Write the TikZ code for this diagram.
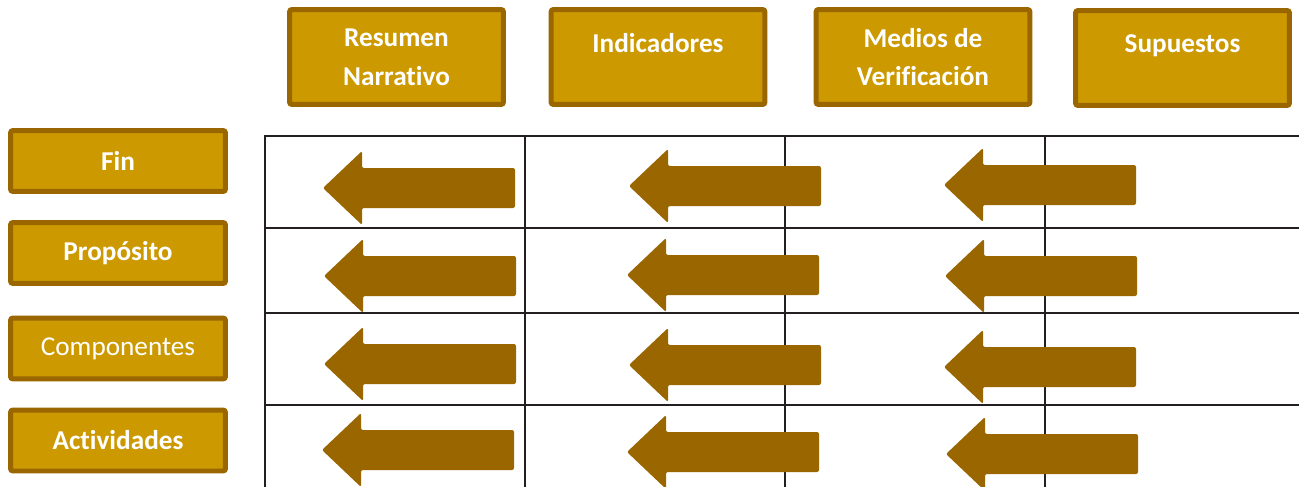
\documentclass[tikz,border=0pt]{standalone}
\usepackage{fontspec}
\setmainfont{Carlito}[Ligatures=CommonOff]
\usepackage{tikz}
\usetikzlibrary{calc}
\definecolor{boxGold}{HTML}{CC9900}
\definecolor{boxBrown}{HTML}{996600}
\definecolor{gridBlack}{HTML}{231F20}
\tikzset{
 goldBox/.style = {draw=boxBrown, fill=boxGold, line width=0.1cm, rounded corners=0.05cm,
  text=white, align=center, font=\bfseries\fontsize{15.5}{22}\selectfont},
 headBox/.style = {goldBox, minimum width=4.28cm, minimum height=1.9cm},
 rowBox/.style = {goldBox, minimum width=4.3cm, minimum height=1.22cm},
 gridLine/.style = {draw=gridBlack, line width=0.04cm}
}
\pgfkeys{
 /leftArrow/.is family, /leftArrow,
 color/.estore in = \laColor,
 name/.estore in = \laName,
 default/.style = {color=boxBrown, name=defaultarrow}
}
\newcommand{\leftArrow}[2][]{
    \pgfkeys{/leftArrow, default, #1}%
    \coordinate (\laName_tip) at #2;
    \fill[color=\laColor, rounded corners=0.04cm] (\laName_tip) -- ++(39,-37) -- ++(0,17)
        -- ++(153,0) -- ++(0,40) -- ++(-153,0) -- ++(0,17) -- cycle;
}
\begin{document}
\begin{tikzpicture}[x=0.02cm, y=-0.02cm]
    \useasboundingbox (0,0) rectangle (1299,487);
    % column headers
    \node[headBox] (hdResumen) at (396.5,57) {Resumen\\Narrativo};
    \node[headBox] (hdIndicadores) at (658,57) {Indicadores\\[-6pt]\mbox{}};
    \node[headBox] (hdMedios) at (923,57) {Medios de\\Verificación};
    \node[headBox] (hdSupuestos) at (1182.5,58) {Supuestos\\[-6pt]\mbox{}};
    % row headers
    \node[rowBox] (rowFin) at (118,161) {Fin};
    \node[rowBox] (rowProposito) at (118,253) {Propósito};
    \node[rowBox, font=\fontsize{15.5}{22}\selectfont] (rowComponentes) at (118,348.5) {Componentes};
    \node[rowBox] (rowActividades) at (118,440.5) {Actividades};
    % grid
    \foreach \gy in {136,228,313,405}
        \draw[gridLine] (265,\gy) -- (1299,\gy);
    \foreach \gx in {265,525,785,1045}
        \draw[gridLine] (\gx,135) -- (\gx,487);
    % arrows
    \leftArrow[name=finA]{(323,188)}
    \leftArrow[name=finB]{(629,186)}
    \leftArrow[name=finC]{(944,185)}
    \leftArrow[name=propA]{(324,276)}
    \leftArrow[name=propB]{(627,275)}
    \leftArrow[name=propC]{(945,276)}
    \leftArrow[name=compA]{(324,364)}
    \leftArrow[name=compB]{(629,365)}
    \leftArrow[name=compC]{(944,367)}
    \leftArrow[name=actA]{(322,450)}
    \leftArrow[name=actB]{(627,452)}
    \leftArrow[name=actC]{(946,454)}
\end{tikzpicture}
\end{document}
